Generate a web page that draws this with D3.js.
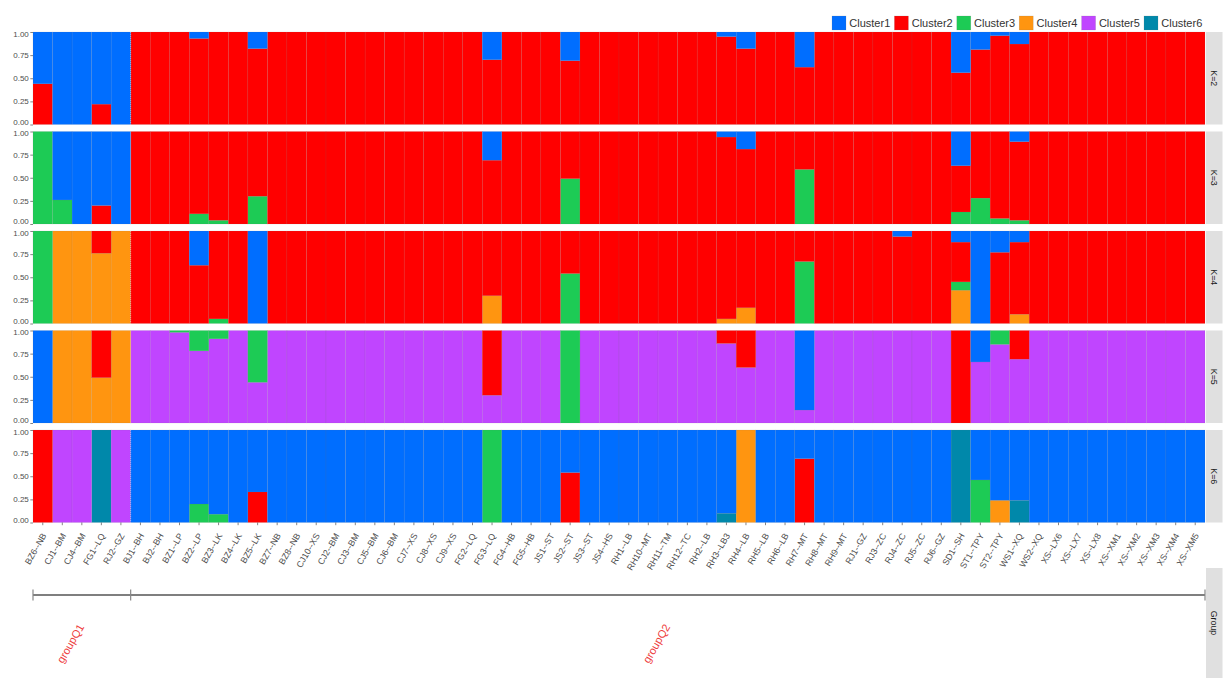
<!DOCTYPE html>
<html><head><meta charset="utf-8">
<script src="https://cdn.jsdelivr.net/npm/d3@7"></script>
<style>
body{margin:0;background:#fff;}
text{font-family:"Liberation Sans",Arial,Helvetica,sans-serif;}
</style>
</head><body>
<svg id="chart" width="1232" height="686"></svg>
<script>
// ---------------- DATA ----------------
const samples = ["BZ6--NB","CJ1--BM","CJ4--BM","FG1--LQ","RJ2--GZ","BJ1--BH","BJ2--BH","BZ1--LP","BZ2--LP","BZ3--LK",
  "BZ4--LK","BZ5--LK","BZ7--NB","BZ8--NB","CJ10--XS","CJ2--BM","CJ3--BM","CJ5--BM","CJ6--BM","CJ7--XS",
  "CJ8--XS","CJ9--XS","FG2--LQ","FG3--LQ","FG4--HB","FG5--HB","JS1--ST","JS2--ST","JS3--ST","JS4--HS",
  "RH1--LB","RH10--MT","RH11--TM","RH12--TC","RH2--LB","RH3--LB3","RH4--LB","RH5--LB","RH6--LB","RH7--MT",
  "RH8--MT","RH9--MT","RJ1--GZ","RJ3--ZC","RJ4--ZC","RJ5--ZC","RJ6--GZ","SD1--SH","ST1--TPY","ST2--TPY",
  "WS1--XQ","WS2--XQ","XS--LX6","XS--LX7","XS--LX8","XS--XM1","XS--XM2","XS--XM3","XS--XM4","XS--XM5"];
const clusterNames = ["Cluster1","Cluster2","Cluster3","Cluster4","Cluster5","Cluster6"];
const kLabels = ["K=2","K=3","K=4","K=5","K=6"];
const groupLabels = ["groupQ1","groupQ2"];
const groupFirst = ["BZ6--NB","BJ1--BH"];
const groupLast = ["RJ2--GZ","XS--XM5"];
const yTicks = [0,0.25,0.5,0.75,1];

// ancestry proportions, one array per cluster, 60 samples each
const k2 = [
 [0.56,1,1,0.78,1,0,0,0,0.07,0, 0,0.18,0,0,0,0,0,0,0,0, 0,0,0,0.30,0,0,0,0.31,0,0,
  0,0,0,0,0,0.05,0.18,0,0,0.38, 0,0,0,0,0,0,0,0.44,0.19,0.04, 0.13,0,0,0,0,0,0,0,0,0],
 [0.44,0,0,0.22,0,1,1,1,0.93,1, 1,0.82,1,1,1,1,1,1,1,1, 1,1,1,0.70,1,1,1,0.69,1,1,
  1,1,1,1,1,0.95,0.82,1,1,0.62, 1,1,1,1,1,1,1,0.56,0.81,0.96, 0.87,1,1,1,1,1,1,1,1,1]
];
const k3 = [
 [0,0.74,1,0.80,1,0,0,0,0,0, 0,0,0,0,0,0,0,0,0,0, 0,0,0,0.31,0,0,0,0,0,0,
  0,0,0,0,0,0.06,0.19,0,0,0, 0,0,0,0,0,0,0,0.37,0,0, 0.11,0,0,0,0,0,0,0,0,0],
 [0,0,0,0.20,0,1,1,1,0.89,0.96, 1,0.70,1,1,1,1,1,1,1,1, 1,1,1,0.69,1,1,1,0.51,1,1,
  1,1,1,1,1,0.94,0.81,1,1,0.41, 1,1,1,1,1,1,1,0.50,0.72,0.94, 0.85,1,1,1,1,1,1,1,1,1],
 [1,0.26,0,0,0,0,0,0,0.11,0.04, 0,0.30,0,0,0,0,0,0,0,0, 0,0,0,0,0,0,0,0.49,0,0,
  0,0,0,0,0,0,0,0,0,0.59, 0,0,0,0,0,0,0,0.13,0.28,0.06, 0.04,0,0,0,0,0,0,0,0,0]
];
const k4 = [
 [0,0,0,0,0,0,0,0,0.37,0, 0,1,0,0,0,0,0,0,0,0, 0,0,0,0,0,0,0,0,0,0,
  0,0,0,0,0,0,0,0,0,0, 0,0,0,0,0.06,0,0,0.12,1,0.23, 0.12,0,0,0,0,0,0,0,0,0],
 [0,0,0,0.24,0,1,1,1,0.63,0.95, 1,0,1,1,1,1,1,1,1,1, 1,1,1,0.70,1,1,1,0.46,1,1,
  1,1,1,1,1,0.95,0.83,1,1,0.33, 1,1,1,1,0.94,1,1,0.43,0,0.77, 0.78,1,1,1,1,1,1,1,1,1],
 [1,0,0,0,0,0,0,0,0,0.05, 0,0,0,0,0,0,0,0,0,0, 0,0,0,0,0,0,0,0.54,0,0,
  0,0,0,0,0,0,0,0,0,0.67, 0,0,0,0,0,0,0,0.09,0,0, 0,0,0,0,0,0,0,0,0,0],
 [0,1,1,0.76,1,0,0,0,0,0, 0,0,0,0,0,0,0,0,0,0, 0,0,0,0.30,0,0,0,0,0,0,
  0,0,0,0,0,0.05,0.17,0,0,0, 0,0,0,0,0,0,0,0.36,0,0, 0.10,0,0,0,0,0,0,0,0,0]
];
const k5 = [
 [1,0,0,0,0,0,0,0,0,0, 0,0,0,0,0,0,0,0,0,0, 0,0,0,0,0,0,0,0,0,0,
  0,0,0,0,0,0,0,0,0,0.86, 0,0,0,0,0,0,0,0,0.34,0, 0,0,0,0,0,0,0,0,0,0],
 [0,0,0,0.51,0,0,0,0,0,0, 0,0,0,0,0,0,0,0,0,0, 0,0,0,0.70,0,0,0,0,0,0,
  0,0,0,0,0,0.14,0.40,0,0,0, 0,0,0,0,0,0,0,1,0,0, 0.31,0,0,0,0,0,0,0,0,0],
 [0,0,0,0,0,0,0,0.02,0.22,0.09, 0,0.56,0,0,0,0,0,0,0,0, 0,0,0,0,0,0,0,1,0,0,
  0,0,0,0,0,0,0,0,0,0, 0,0,0,0,0,0,0,0,0,0.15, 0,0,0,0,0,0,0,0,0,0],
 [0,1,1,0.49,1,0,0,0,0,0, 0,0,0,0,0,0,0,0,0,0, 0,0,0,0,0,0,0,0,0,0,
  0,0,0,0,0,0,0,0,0,0, 0,0,0,0,0,0,0,0,0,0, 0,0,0,0,0,0,0,0,0,0],
 [0,0,0,0,0,1,1,0.98,0.78,0.91, 1,0.44,1,1,1,1,1,1,1,1, 1,1,1,0.30,1,1,1,0,1,1,
  1,1,1,1,1,0.86,0.60,1,1,0.14, 1,1,1,1,1,1,1,0,0.66,0.85, 0.69,1,1,1,1,1,1,1,1,1]
];
const k6 = [
 [0,0,0,0,0,1,1,1,0.80,0.91, 1,0.67,1,1,1,1,1,1,1,1, 1,1,1,0,1,1,1,0.46,1,1,
  1,1,1,1,1,0.90,0,1,1,0.31, 1,1,1,1,1,1,1,0,0.54,0.76, 0.76,1,1,1,1,1,1,1,1,1],
 [1,0,0,0,0,0,0,0,0,0, 0,0.33,0,0,0,0,0,0,0,0, 0,0,0,0,0,0,0,0.54,0,0,
  0,0,0,0,0,0,0,0,0,0.69, 0,0,0,0,0,0,0,0,0,0, 0,0,0,0,0,0,0,0,0,0],
 [0,0,0,0,0,0,0,0,0.20,0.09, 0,0,0,0,0,0,0,0,0,0, 0,0,0,1,0,0,0,0,0,0,
  0,0,0,0,0,0,0,0,0,0, 0,0,0,0,0,0,0,0,0.46,0, 0,0,0,0,0,0,0,0,0,0],
 [0,0,0,0,0,0,0,0,0,0, 0,0,0,0,0,0,0,0,0,0, 0,0,0,0,0,0,0,0,0,0,
  0,0,0,0,0,0,1,0,0,0, 0,0,0,0,0,0,0,0,0,0.24, 0,0,0,0,0,0,0,0,0,0],
 [0,1,1,0,1,0,0,0,0,0, 0,0,0,0,0,0,0,0,0,0, 0,0,0,0,0,0,0,0,0,0,
  0,0,0,0,0,0,0,0,0,0, 0,0,0,0,0,0,0,0,0,0, 0,0,0,0,0,0,0,0,0,0],
 [0,0,0,1,0,0,0,0,0,0, 0,0,0,0,0,0,0,0,0,0, 0,0,0,0,0,0,0,0,0,0,
  0,0,0,0,0,0.10,0,0,0,0, 0,0,0,0,0,0,0,1,0,0, 0.24,0,0,0,0,0,0,0,0,0]
];
const panelsData = [k2,k3,k4,k5,k6];

// ---------------- STYLE ----------------
const colors = {"Cluster1":"#006EFF","Cluster2":"#FF0000","Cluster3":"#1DCB55","Cluster4":"#FF9510","Cluster5":"#C045FF","Cluster6":"#0088AA"};
const L = {left:33, right:1205, top:32, panelH:92.5, step:99.5, stripX:1206, stripW:16.5};
const barStroke = "rgba(120,120,120,0.22)";

const svg = d3.select("#chart");
const x = d3.scaleBand().domain(samples).range([L.left, L.right]).padding(0);

panelsData.forEach((clusters, pi) => {
  const top = L.top + pi*L.step, bottom = top + L.panelH;
  const y = d3.scaleLinear().domain([0,1]).range([bottom, top]);
  const keys = clusterNames.slice(0, clusters.length);
  const rows = samples.map((s,i) => {
    const r = {sample:s};
    keys.forEach((k,ci) => r[k] = clusters[ci][i]);
    return r;
  });
  // last cluster at bottom, Cluster1 on top
  const series = d3.stack().keys(keys.slice().reverse())(rows);
  const g = svg.append("g");
  series.forEach(ser => {
    g.selectAll(null).data(ser.filter(d => d[1]-d[0] > 0)).enter().append("rect")
      .attr("x", d => x(d.data.sample))
      .attr("width", x.bandwidth())
      .attr("y", d => y(Math.min(1,d[1])))
      .attr("height", d => y(d[0]) - y(Math.min(1,d[1])))
      .attr("fill", colors[ser.key])
      .attr("stroke", barStroke)
      .attr("stroke-width", 0.5);
  });
  // group divider (dotted)
  g.append("line")
    .attr("x1", x(groupFirst[1])).attr("x2", x(groupFirst[1]))
    .attr("y1", top).attr("y2", bottom)
    .attr("stroke", "rgba(255,255,255,0.5)").attr("stroke-width", 0.8)
    .attr("stroke-dasharray", "1,1");
  // y axis
  const ya = svg.append("g").attr("transform", `translate(${L.left},0)`)
    .call(d3.axisLeft(y).tickValues(yTicks).tickFormat(d3.format(".2f")).tickSize(2.7).tickPadding(1.5));
  ya.select(".domain").remove();
  ya.selectAll("line").attr("stroke", "#333").attr("stroke-width", 0.6);
  ya.selectAll("text").attr("fill", "#4d4d4d").style("font-size", "8px")
    .style("font-family", "'Liberation Sans', Arial, sans-serif")
    .attr("dy", d => d === 0 ? "-0.05em" : (d === 1 ? "0.5em" : "0.32em"));
  // strip
  svg.append("rect").attr("x", L.stripX).attr("y", top).attr("width", L.stripW).attr("height", L.panelH)
    .attr("fill", "#E0E0E0");
  svg.append("text").attr("transform", `translate(${L.stripX + L.stripW/2 - 3},${(top+bottom)/2}) rotate(90)`)
    .attr("text-anchor", "middle").attr("fill", "#1a1a1a").style("font-size", "8.8px")
    .text(kLabels[pi]);
  if (pi === panelsData.length - 1) {
    const xa = svg.append("g").attr("transform", `translate(0,${bottom})`)
      .call(d3.axisBottom(x).tickSize(2.7).tickPadding(2));
    xa.select(".domain").remove();
    xa.selectAll("line").attr("stroke", "#333").attr("stroke-width", 0.6);
    xa.selectAll("text").attr("fill", "#4d4d4d").style("font-size", "8.8px")
      .style("font-family", "'Liberation Sans', Arial, sans-serif")
      .attr("text-anchor", "end").attr("dy", null).attr("y", 0)
      .attr("transform", "translate(4,13) rotate(-60)");
  }
});

// ---------------- GROUP ROW ----------------
const gy = 595;
const gg = svg.append("g");
gg.append("line").attr("x1", L.left).attr("x2", L.right).attr("y1", gy).attr("y2", gy)
  .attr("stroke", "#555").attr("stroke-width", 1.6);
const gTicks = [x(groupFirst[0]), x(groupFirst[1]), x(groupLast[1]) + x.bandwidth()];
gg.selectAll(null).data(gTicks).enter().append("line")
  .attr("x1", d => d).attr("x2", d => d).attr("y1", gy-5.5).attr("y2", gy+5.5)
  .attr("stroke", "#888").attr("stroke-width", 1.2);
groupLabels.forEach((lab, i) => {
  const cx = (x(groupFirst[i]) + x(groupLast[i]) + x.bandwidth())/2;
  gg.append("text").attr("transform", `translate(${cx - 4},${gy + 28}) rotate(-60)`)
    .attr("text-anchor", "end").attr("dy", "0.7em").attr("fill", "#EE3B3B").style("font-size", "11px")
    .text(lab);
});
svg.append("rect").attr("x", L.stripX).attr("y", 568).attr("width", L.stripW).attr("height", 110)
  .attr("fill", "#E0E0E0");
svg.append("text").attr("transform", `translate(${L.stripX + L.stripW/2 - 3},${623}) rotate(90)`)
  .attr("text-anchor", "middle").attr("fill", "#1a1a1a").style("font-size", "8.8px").text("Group");

// ---------------- LEGEND ----------------
const lg = svg.append("g").attr("transform", "translate(832,16)");
clusterNames.forEach((c, i) => {
  const it = lg.append("g").attr("transform", `translate(${i*62.4},0)`);
  it.append("rect").attr("width", 14).attr("height", 14).attr("fill", colors[c])
    .attr("stroke", "rgba(120,120,120,0.35)").attr("stroke-width", 0.5);
  it.append("text").attr("x", 17.3).attr("y", 11.2).attr("fill", "#333").style("font-size", "11px").text(c);
});
</script>
</body></html>
